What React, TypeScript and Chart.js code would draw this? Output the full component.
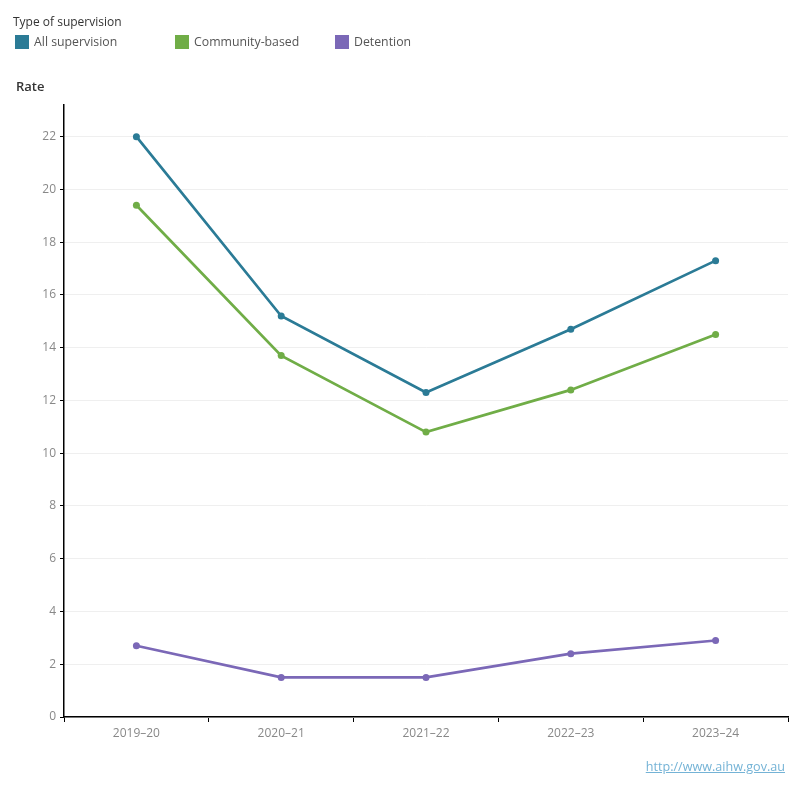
import React, { useEffect, useRef } from "react";
import { Chart, registerables } from "chart.js";

Chart.register(...registerables);

const categories = ["2019–20", "2020–21", "2021–22", "2022–23", "2023–24"];
const allSupervision = [22.0, 15.2, 12.3, 14.7, 17.3];
const communityBased = [19.4, 13.7, 10.8, 12.4, 14.5];
const detention = [2.7, 1.5, 1.5, 2.4, 2.9];
const seriesNames = ["All supervision", "Community-based", "Detention"];
const seriesColors = ["#2b7b96", "#70ad47", "#7b68b7"];

const FONT = "'Open Sans', 'DejaVu Sans', sans-serif";

export default function App() {
  const ref = useRef<HTMLCanvasElement | null>(null);

  useEffect(() => {
    if (!ref.current) return;
    const values = [allSupervision, communityBased, detention];
    const chart = new Chart(ref.current, {
      type: "line",
      data: {
        labels: categories,
        datasets: seriesNames.map((name, i) => ({
          label: name,
          data: values[i],
          borderColor: seriesColors[i],
          backgroundColor: seriesColors[i],
          borderWidth: 2.7,
          pointRadius: 3.5,
          pointHoverRadius: 3.5,
          pointBorderWidth: 0,
          tension: 0,
        })),
      },
      options: {
        responsive: false,
        animation: false,
        layout: { padding: { left: 0, top: 105, right: 12, bottom: 53 } },
        plugins: { legend: { display: false }, tooltip: { enabled: false } },
        scales: {
          x: {
            offset: true,
            grid: {
              offset: true,
              drawOnChartArea: false,
              tickColor: "#000",
              tickLength: 5,
            },
            border: { color: "#000", width: 1.5 },
            ticks: { color: "#888", font: { family: FONT, size: 12 }, padding: 4 },
            afterFit: (s: any) => {
              s.height = 30;
            },
          },
          y: {
            min: 0,
            max: 23.2,
            grid: { color: "#efefef", tickColor: "#000", tickLength: 4 },
            border: { color: "#000", width: 1.5 },
            ticks: {
              stepSize: 2,
              color: "#888",
              font: { family: FONT, size: 12 },
              padding: 4,
            },
            afterBuildTicks: (s: any) => {
              s.ticks = s.ticks.filter((t: any) => Math.abs(t.value % 2) < 1e-6);
            },
            afterFit: (s: any) => {
              s.width = 64;
            },
          },
        },
      },
    });
    return () => chart.destroy();
  }, []);

  return (
    <div style={{ position: "absolute", left: 0, top: 0, width: 800, height: 800, fontFamily: FONT, background: "#fff" }}>
      <canvas ref={ref} width={800} height={800} style={{ position: "absolute", left: 0, top: 0 }} />
      <div style={{ position: "absolute", left: 13, top: 13, fontSize: 12, color: "#333" }}>Type of supervision</div>
      {seriesNames.map((name, i) => (
        <div key={name} style={{ position: "absolute", left: 15 + i * 160, top: 33, display: "flex", alignItems: "center" }}>
          <div style={{ width: 14, height: 14, background: seriesColors[i], marginRight: 5 }} />
          <span style={{ fontSize: 12.3, color: "#555" }}>{name}</span>
        </div>
      ))}
      <div style={{ position: "absolute", left: 16, top: 77, fontSize: 13, fontWeight: 600, color: "#333" }}>Rate</div>
      <a
        href="http://www.aihw.gov.au"
        style={{ position: "absolute", right: 15, top: 758, fontSize: 12.6, color: "#74b3d6", textDecoration: "underline" }}
      >
        http://www.aihw.gov.au
      </a>
    </div>
  );
}
